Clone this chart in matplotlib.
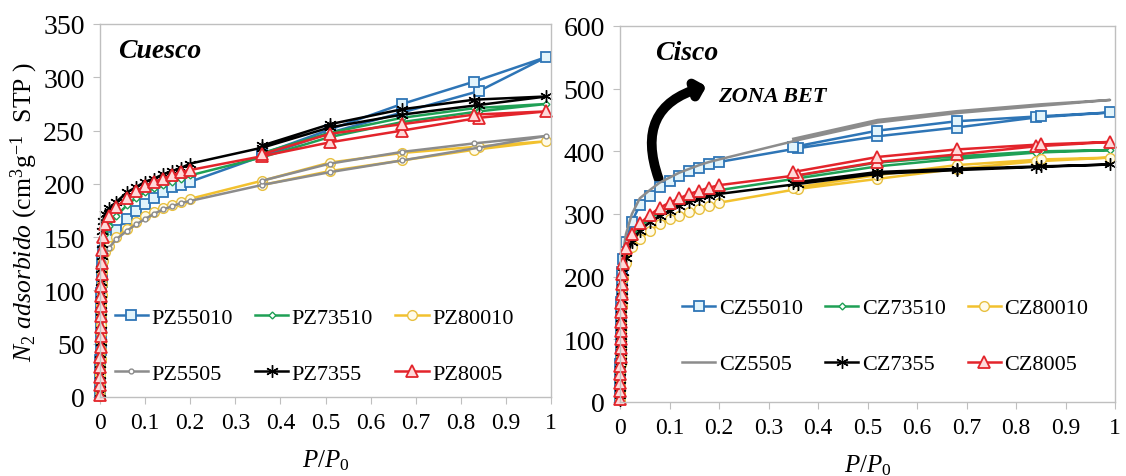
import matplotlib
matplotlib.use("Agg")
import matplotlib.pyplot as plt
from matplotlib.patches import FancyArrowPatch
from matplotlib.ticker import FuncFormatter, MultipleLocator

plt.rcParams['font.family'] = ['Liberation Serif', 'DejaVu Serif']
plt.rcParams['mathtext.fontset'] = 'custom'
plt.rcParams['mathtext.rm'] = 'Liberation Serif'
plt.rcParams['mathtext.it'] = 'Liberation Serif:italic'
plt.rcParams['mathtext.bf'] = 'Liberation Serif:bold'

# ---------------- data: Cuesco (left) ----------------
p_cuesco = [0.0002, 0.0004, 0.0006, 0.0008, 0.001, 0.0012, 0.0014, 0.0016, 0.0018, 0.002,
            0.0025, 0.003, 0.0035, 0.004, 0.005, 0.007,
            0.012, 0.02, 0.036, 0.06, 0.08, 0.1, 0.12, 0.14, 0.16, 0.18, 0.2,
            0.36, 0.51, 0.67, 0.84, 0.99,
            0.83, 0.67, 0.51, 0.36]
pz55010 = [3, 10, 18, 27, 35, 44, 53, 62, 71, 80, 89, 98, 108, 118, 128, 137,
           145, 150, 157, 167, 175, 181, 187, 192, 197, 199, 202,
           226, 248, 267, 287, 319,
           296, 275, 251, 228]
pz73510 = [2, 9, 17, 26, 34, 43, 52, 61, 70, 80, 90, 100, 110, 121, 132, 143,
           153, 160, 170, 180, 187, 192, 196, 199, 202, 205, 208,
           225, 244, 258, 268, 275,
           271, 262, 248, 229]
pz80010 = [1, 7, 14, 21, 28, 36, 44, 52, 60, 68, 77, 86, 96, 106, 117, 128,
           136, 142, 150, 158, 164, 170, 174, 177, 180, 183, 186,
           203, 220, 229, 235, 240,
           232, 222, 212, 199]
pz5505 = [2, 8, 15, 22, 30, 38, 46, 54, 62, 71, 80, 89, 98, 108, 118, 127,
          134, 140, 148, 156, 162, 167, 172, 176, 179, 182, 184,
          199, 211, 222, 234, 245,
          238, 230, 219, 203]
pz7355 = [4, 12, 21, 31, 40, 52, 63, 75, 86, 97, 108, 120, 132, 144, 156, 165,
          172, 177, 183, 192, 197, 202, 205, 209, 212, 215, 219,
          234, 253, 265, 274, 282,
          279, 270, 256, 236]
pz8005 = [2, 11, 19, 28, 38, 47, 57, 66, 76, 85, 95, 104, 115, 126, 138, 150,
          162, 170, 178, 187, 193, 198, 202, 205, 208, 211, 213,
          226, 239, 250, 262, 268,
          265, 256, 247, 228]
labels_cuesco = ['PZ55010', 'PZ73510', 'PZ80010', 'PZ5505', 'PZ7355', 'PZ8005']

# ---------------- data: Cisco (right) ----------------
p_cisco = [0.0002, 0.0004, 0.0006, 0.0008, 0.001, 0.0012, 0.0014, 0.0016, 0.0018, 0.002,
           0.0025, 0.003, 0.0035, 0.004, 0.005, 0.007,
           0.012, 0.024, 0.04, 0.06, 0.08, 0.1, 0.12, 0.14, 0.16, 0.18, 0.2,
           0.36, 0.52, 0.68, 0.84, 0.99,
           0.85, 0.68, 0.52, 0.35]
cz55010 = [5, 18, 32, 46, 60, 74, 88, 102, 116, 130, 145, 160, 175, 190, 208, 228,
           255, 288, 314, 329, 343, 353, 361, 368, 374, 379, 383,
           405, 424, 438, 454, 462,
           456, 448, 433, 407]
cz73510 = [4, 16, 29, 42, 55, 68, 82, 96, 110, 124, 138, 152, 167, 182, 198, 215,
           238, 262, 280, 292, 303, 311, 318, 324, 329, 334, 338,
           357, 376, 388, 398, 402,
           400, 392, 382, 360]
cz80010 = [3, 14, 25, 37, 49, 61, 73, 86, 99, 112, 125, 139, 153, 167, 182, 198,
           222, 247, 260, 273, 284, 292, 297, 303, 308, 313, 318,
           340, 356, 372, 384, 390,
           387, 378, 362, 342]
cz5505 = [6, 20, 35, 50, 65, 80, 95, 110, 125, 140, 156, 172, 188, 204, 222, 242,
          268, 300, 325, 338, 350, 358, 366, 372, 378, 383, 387,
          418, 446, 461, 472, 482,
          475, 464, 450, 420]
cz7355 = [3, 15, 27, 40, 53, 66, 79, 92, 106, 120, 134, 148, 162, 177, 192, 208,
          230, 255, 273, 287, 297, 305, 313, 319, 324, 329, 332,
          348, 364, 370, 375, 379,
          376, 372, 367, 350]
cz8005 = [4, 17, 30, 44, 58, 72, 86, 100, 114, 128, 143, 158, 173, 188, 205, 222,
          245, 268, 285, 298, 310, 318, 325, 332, 337, 342, 346,
          362, 383, 395, 408, 415,
          411, 403, 391, 367]
labels_cisco = ['CZ55010', 'CZ73510', 'CZ80010', 'CZ5505', 'CZ7355', 'CZ8005']

x_ticks = [0, 0.1, 0.2, 0.3, 0.4, 0.5, 0.6, 0.7, 0.8, 0.9, 1]

# ---------------- styles ----------------
BLUE, GREEN, YELLOW, GRAY, BLACK, RED = '#2E75B6', '#1FA055', '#F2C12E', '#8C8C8C', '#000000', '#E3242B'
styles_left = [
    dict(color=BLUE, marker='s', ms=7, mfc='#E2F4FB', mec=BLUE, mew=1.3),
    dict(color=GREEN, marker='D', ms=3.5, mfc='white', mec=GREEN, mew=1.0),
    dict(color=YELLOW, marker='o', ms=7, mfc='#FFFBEA', mec='#E8C040', mew=1.0),
    dict(color=GRAY, marker='o', ms=3.5, mfc='white', mec=GRAY, mew=1.0),
    dict(color=BLACK, marker=(6, 2, 0), ms=9, mec=BLACK, mew=1.0),
    dict(color=RED, marker='^', ms=8, mfc='#FFD9D9', mec=RED, mew=1.3),
]
styles_right = [dict(s) for s in styles_left]
styles_right[3] = dict(color=GRAY, marker='None')

fig = plt.figure(figsize=(11.26, 4.77), dpi=100)
axL = fig.add_axes([100 / 1126, 1 - 398 / 477, 451 / 1126, 373 / 477])
axR = fig.add_axes([620 / 1126, 1 - 403 / 477, 495 / 1126, 376 / 477])


def draw(ax, xs, series, labels, styles, ymax, ystep, title, tx, anchor):
    handles = []
    for ys, lab, st in zip(series, labels, styles):
        h, = ax.plot(xs, ys, lw=1.8, label=lab, clip_on=False, **st)
        handles.append(h)
    ax.set_xlim(0, 1)
    ax.set_ylim(0, ymax)
    ax.set_xticks(x_ticks)
    ax.xaxis.set_major_formatter(FuncFormatter(lambda v, p: '%g' % round(v, 2)))
    ax.yaxis.set_major_locator(MultipleLocator(ystep))
    for sp in ax.spines.values():
        sp.set_color('#BFBFBF')
        sp.set_linewidth(1.0)
    ax.tick_params(axis='both', which='major', direction='out', length=5,
                   color='#BFBFBF', pad=6)
    ax.tick_params(axis='x', labelsize=17)
    ax.tick_params(axis='y', labelsize=20)
    ax.set_xlabel(r'$P/P_{\mathit{0}}$', fontsize=18, labelpad=10)
    ax.text(tx, 0.93, title, transform=ax.transAxes, fontsize=20,
            fontweight='bold', fontstyle='italic', va='center', ha='left')
    order = [0, 3, 1, 4, 2, 5]
    ax.legend([handles[i] for i in order], [labels[i] for i in order], ncol=3,
              frameon=False, fontsize=16, handlelength=1.5, handletextpad=0.15,
              columnspacing=1.0, labelspacing=1.6, loc='lower left',
              bbox_to_anchor=anchor)
    return handles


draw(axL, p_cuesco, [pz55010, pz73510, pz80010, pz5505, pz7355, pz8005],
     labels_cuesco, styles_left, 350, 50, 'Cuesco', 0.04, (-0.012, -0.018))
draw(axR, p_cisco, [cz55010, cz73510, cz80010, cz5505, cz7355, cz8005],
     labels_cisco, styles_right, 600, 100, 'Cisco', 0.07, (0.085, 0.02))

axL.set_ylabel(r'$N_2$ $adsorbido$ (cm$^3$g$^{-1}$  STP )', fontsize=18.5, labelpad=2)

# ZONA BET annotation
arrow = FancyArrowPatch((0.08, 352), (0.18, 505), transform=axR.transData,
                        connectionstyle='arc3,rad=-0.55',
                        arrowstyle='-|>,head_length=0.35,head_width=0.35',
                        mutation_scale=14, lw=7, color='black',
                        capstyle='round', joinstyle='round')
axR.add_patch(arrow)
axR.text(0.198, 488, 'ZONA BET', fontsize=16, fontweight='bold',
         fontstyle='italic', va='center', ha='left')

fig.savefig('out.png', dpi=100)
